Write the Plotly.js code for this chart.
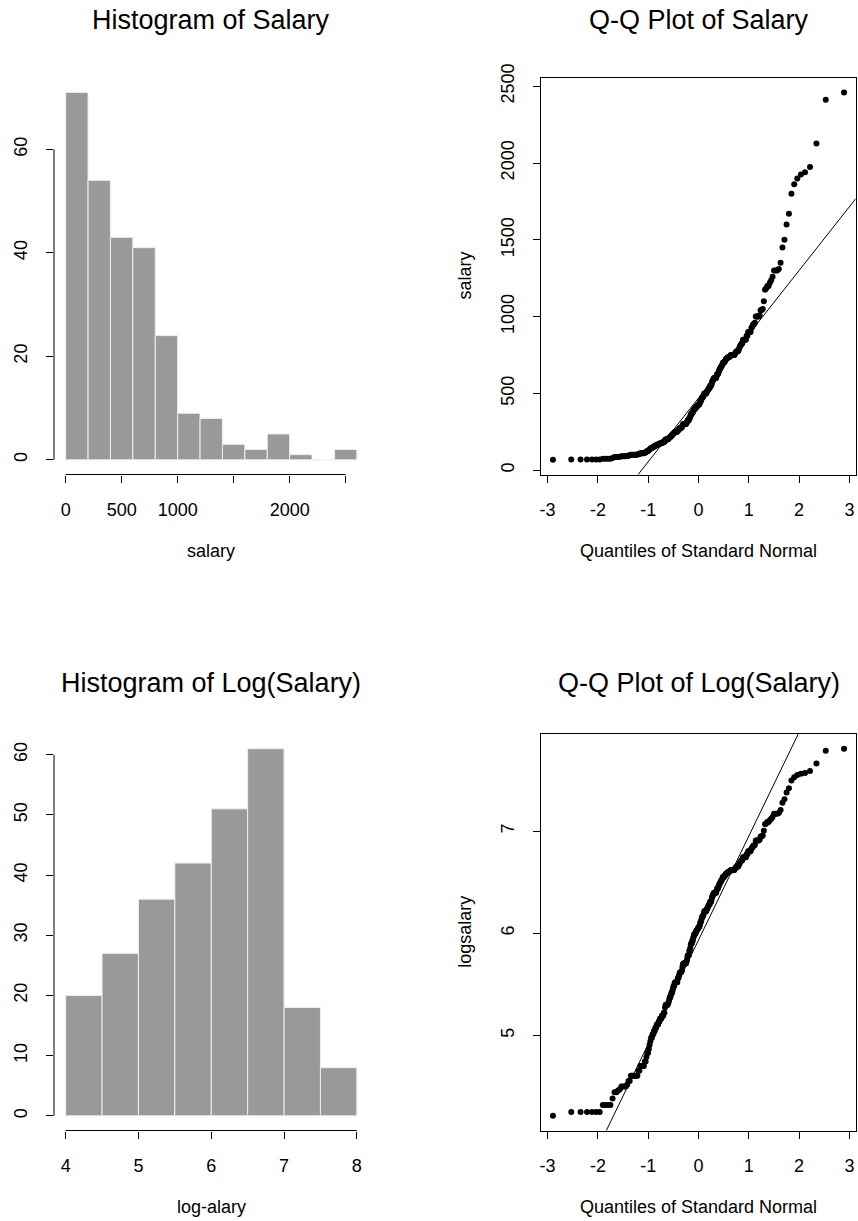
<!DOCTYPE html>
<html><head><meta charset="utf-8">
<script src="https://cdn.plot.ly/plotly-3.0.1.min.js"></script>
<style>html,body{margin:0;padding:0;background:#fff}#chart{width:858px;height:1221px}</style>
</head><body><div id="chart"></div>
<script>
// ---- data (salary in $1000s, 263 players) ----
const salary = [
475,480,500,91.5,750,70,100,75,1100,517.143,512.5,550,700,240,775,175,135,100,115,600,
776.667,765,708.333,750,625,900,110,612.5,300,850,90,67.5,180,305,215,247.5,815,875,70,1200,
675,415,340,416.667,1350,90,275,230,225,950,75,105,320,850,535,933.333,850,210,325,275,
450,1975,1900,600,1041.667,110,260,475,431.5,1220,70,145,595,1861.46,300,490,2460,375,750,1175,
70,1500,385,1925.571,215,900,155,700,535,362.5,733.333,200,400,400,737.5,500,600,662.5,950,750,
297.5,325,87.5,175,90,1237.5,430,100,165,250,1300,773.333,1008.333,275,775,850,365,95,110,100,
277.5,80,600,200,657,75,2412.5,250,155,640,300,110,825,195,450,630,86.5,1300,1000,1800,
1310,737.5,625,125,1043.333,725,300,365,75,1183.333,202.5,225,525,265,787.5,800,587.5,1000,145,100,
250,1050,165,1000,740,300,1300,1200,750,200,200,400,900,100,500,550,250,500,
70,70,85,85,90,95,100,105,110,115,120,125,130,140,150,150,160,160,165,170,170,175,180,180,185,185,
205,220,235,240,250,260,270,280,290,300,310,325,340,350,375,390,
405,410,420,425,425,440,460,470,500,510,530,550,560,575,580,600,
650,670,680,690,700,710,720,725,730,740,750,750,760,
810,825,850,875,900,925,960,1000,
1260,1450,1600,1670,1940,2127.333
];
const salaryBreaks = [0,200,400,600,800,1000,1200,1400,1600,1800,2000,2200,2400,2600];
const salaryCounts = [71,54,43,41,24,9,8,3,2,5,1,0,2];
const logBreaks = [4,4.5,5,5.5,6,6.5,7,7.5,8];
const logCounts = [20,27,36,42,51,61,18,8];

const salaryTicks = [0,500,1000,1500,2000,2500];
const salaryTickText = ['0','500','1000','','2000',''];
const count1Ticks = [0,20,40,60];
const logTicks = [4,5,6,7,8];
const count2Ticks = [0,10,20,30,40,50,60];
const normTicks = [-3,-2,-1,0,1,2,3];
const qqSalTicks = [0,500,1000,1500,2000,2500];
const qqLogTicks = [5,6,7];

const titles = ['Histogram of Salary','Q-Q Plot of Salary','Histogram of Log(Salary)','Q-Q Plot of Log(Salary)'];
const xTitles = ['salary','Quantiles of Standard Normal','log-alary','Quantiles of Standard Normal'];
const yTitles = ['salary','logsalary'];

// ---- helpers ----
function qnorm(p){
 const a=[-3.969683028665376e+01,2.209460984245205e+02,-2.759285104469687e+02,1.383577518672690e+02,-3.066479806614716e+01,2.506628277459239e+00];
 const b=[-5.447609879822406e+01,1.615858368580409e+02,-1.556989798598866e+02,6.680131188771972e+01,-1.328068155288572e+01];
 const c=[-7.784894002430293e-03,-3.223964580411365e-01,-2.400758277161838e+00,-2.549732539343734e+00,4.374664141464968e+00,2.938163982698783e+00];
 const d=[7.784695709041462e-03,3.224671290700398e-01,2.445134137142996e+00,3.754408661907416e+00];
 const pl=0.02425; let q,r;
 if(p<pl){q=Math.sqrt(-2*Math.log(p));return (((((c[0]*q+c[1])*q+c[2])*q+c[3])*q+c[4])*q+c[5])/((((d[0]*q+d[1])*q+d[2])*q+d[3])*q+1);}
 if(p<=1-pl){q=p-0.5;r=q*q;return (((((a[0]*r+a[1])*r+a[2])*r+a[3])*r+a[4])*r+a[5])*q/(((((b[0]*r+b[1])*r+b[2])*r+b[3])*r+b[4])*r+1);}
 q=Math.sqrt(-2*Math.log(1-p));return -(((((c[0]*q+c[1])*q+c[2])*q+c[3])*q+c[4])*q+c[5])/((((d[0]*q+d[1])*q+d[2])*q+d[3])*q+1);
}
function quant7(s,p){const h=(s.length-1)*p,lo=Math.floor(h),hi=Math.ceil(h);return s[lo]+(h-lo)*(s[hi]-s[lo]);}
function pad(lo,hi){const e=0.04*(hi-lo);return [lo-e,hi+e];}
const mids = br => br.slice(0,-1).map((v,i)=>(v+br[i+1])/2);
const widths = br => br.slice(0,-1).map((v,i)=>br[i+1]-v);

const sortedSal = salary.slice().sort((a,b)=>a-b);
const sortedLog = sortedSal.map(v=>Math.log(v));
const n = sortedSal.length;
const theo = sortedSal.map((v,i)=>qnorm((i+1-0.5)/n));
function qqline(s){
  const y1=quant7(s,0.25),y2=quant7(s,0.75),x1=qnorm(0.25),x2=qnorm(0.75);
  const sl=(y2-y1)/(x2-x1);return {sl:sl,ic:y1-sl*x1};
}
const xq = pad(theo[0],theo[n-1]);
const ySalR = pad(sortedSal[0],sortedSal[n-1]);
const yLogR = pad(sortedLog[0],sortedLog[n-1]);
const l1=qqline(sortedSal), l2=qqline(sortedLog);

// ---- layout geometry (pixels -> paper) ----
const W=858,H=1221;
const colL=[54/W,368.5/W], colR=[541.3/W,855.7/W];
const rowT=[1-474.5/H,1-77.7/H], rowB=[1-1130.5/H,1-734/H];
const FONT="'Liberation Sans', Arial, Helvetica, sans-serif";

const barStyle={color:'#999999',line:{color:'#eeeeee',width:1}};
const traces=[
 {type:'bar',x:mids(salaryBreaks),y:salaryCounts,width:widths(salaryBreaks),marker:barStyle,xaxis:'x',yaxis:'y',hoverinfo:'none'},
 {type:'scatter',mode:'markers',x:theo,y:sortedSal,marker:{color:'#000',size:6},xaxis:'x2',yaxis:'y2',hoverinfo:'none'},
 {type:'scatter',mode:'lines',x:xq,y:xq.map(v=>l1.ic+l1.sl*v),line:{color:'#000',width:1},xaxis:'x2',yaxis:'y2',hoverinfo:'none'},
 {type:'bar',x:mids(logBreaks),y:logCounts,width:widths(logBreaks),marker:barStyle,xaxis:'x3',yaxis:'y3',hoverinfo:'none'},
 {type:'scatter',mode:'markers',x:theo,y:sortedLog,marker:{color:'#000',size:6},xaxis:'x4',yaxis:'y4',hoverinfo:'none'},
 {type:'scatter',mode:'lines',x:xq,y:xq.map(v=>l2.ic+l2.sl*v),line:{color:'#000',width:1},xaxis:'x4',yaxis:'y4',hoverinfo:'none'}
];

const tickFont={family:FONT,size:18,color:'#000'};
function ax(extra){
  return Object.assign({showgrid:false,zeroline:false,ticks:'outside',ticklen:7,tickwidth:1,tickcolor:'#000',
    tickfont:tickFont,fixedrange:true,ticklabelstandoff:12},extra);
}
const frame={showline:true,mirror:true,linecolor:'#000',linewidth:1};
const layout={
 width:W,height:H,margin:{l:0,r:0,t:0,b:0},paper_bgcolor:'#fff',plot_bgcolor:'rgba(0,0,0,0)',
 showlegend:false,font:{family:FONT,color:'#000'},
 xaxis:ax({domain:colL,anchor:'y',range:pad(salaryBreaks[0],salaryBreaks[salaryBreaks.length-1]),tickmode:'array',tickvals:salaryTicks,ticktext:salaryTickText,showline:false}),
 yaxis:ax({domain:rowT,anchor:'x',range:pad(0,Math.max(...salaryCounts)),tickmode:'array',tickvals:count1Ticks,ticktext:count1Ticks.map(String),tickangle:-90,showline:false}),
 xaxis2:ax(Object.assign({domain:colR,anchor:'y2',range:xq,tickmode:'array',tickvals:normTicks,ticktext:normTicks.map(String)},frame)),
 yaxis2:ax(Object.assign({domain:rowT,anchor:'x2',range:ySalR,tickmode:'array',tickvals:qqSalTicks,ticktext:qqSalTicks.map(String),tickangle:-90},frame)),
 xaxis3:ax({domain:colL,anchor:'y3',range:pad(logBreaks[0],logBreaks[logBreaks.length-1]),tickmode:'array',tickvals:logTicks,ticktext:logTicks.map(String),showline:false}),
 yaxis3:ax({domain:rowB,anchor:'x3',range:pad(0,Math.max(...logCounts)),tickmode:'array',tickvals:count2Ticks,ticktext:count2Ticks.map(String),tickangle:-90,showline:false}),
 xaxis4:ax(Object.assign({domain:colR,anchor:'y4',range:xq,tickmode:'array',tickvals:normTicks,ticktext:normTicks.map(String)},frame)),
 yaxis4:ax(Object.assign({domain:rowB,anchor:'x4',range:yLogR,tickmode:'array',tickvals:qqLogTicks,ticktext:qqLogTicks.map(String),tickangle:-90},frame)),
 shapes:[
  {type:'line',xref:'x',yref:'paper',x0:salaryTicks[0],x1:salaryTicks[salaryTicks.length-1],y0:rowT[0],y1:rowT[0],line:{color:'#000',width:1}},
  {type:'line',xref:'paper',yref:'y',x0:colL[0],x1:colL[0],y0:count1Ticks[0],y1:count1Ticks[count1Ticks.length-1],line:{color:'#000',width:1}},
  {type:'line',xref:'x3',yref:'paper',x0:logTicks[0],x1:logTicks[logTicks.length-1],y0:rowB[0],y1:rowB[0],line:{color:'#000',width:1}},
  {type:'line',xref:'paper',yref:'y3',x0:colL[0],x1:colL[0],y0:count2Ticks[0],y1:count2Ticks[count2Ticks.length-1],line:{color:'#000',width:1}}
 ],
 annotations:[]
};
const cx=[(colL[0]+colL[1])/2,(colR[0]+colR[1])/2];
const tY=[20,683], xtY=[550.5,1206.5];
function ann(text,x,ypx,size,angle){
  return {text:text,xref:'paper',yref:'paper',x:x,y:1-ypx/H,xanchor:'center',yanchor:'middle',showarrow:false,
    textangle:angle||0,font:{family:FONT,size:size,color:'#000'}};
}
titles.forEach((t,i)=>layout.annotations.push(ann(t,cx[i%2],tY[Math.floor(i/2)],27)));
xTitles.forEach((t,i)=>layout.annotations.push(ann(t,cx[i%2],xtY[Math.floor(i/2)],18)));
layout.annotations.push(ann(yTitles[0],465.5/W,(77.7+474.5)/2,18,-90));
layout.annotations.push(ann(yTitles[1],465.5/W,(734+1130.5)/2,18,-90));

Plotly.newPlot('chart',traces,layout,{staticPlot:true,displayModeBar:false});
</script></body></html>
